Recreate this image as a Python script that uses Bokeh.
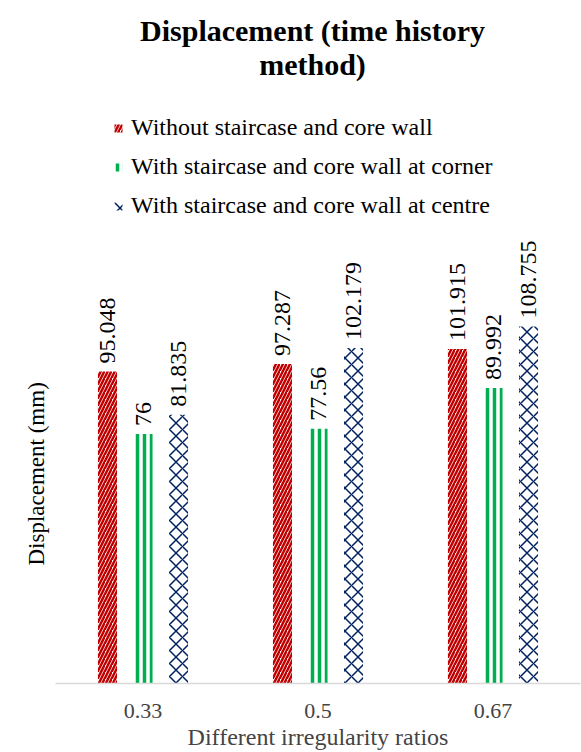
import math
from bokeh.plotting import figure
from bokeh.models import FactorRange, Range1d, ColumnDataSource, Legend, LegendItem, Title, Label
from bokeh.transform import dodge
from bokeh.core.properties import value
from bokeh.embed import file_html
from bokeh.resources import INLINE

categories = ["0.33", "0.5", "0.67"]
series_names = [
    "Without staircase and core wall",
    "With staircase and core wall at corner",
    "With staircase and core wall at centre",
]
without_wall = [95.048, 97.287, 101.915]
wall_corner = [76, 77.56, 89.992]
wall_centre = [81.835, 102.179, 108.755]
label_text = [
    ["95.048", "97.287", "101.915"],
    ["76", "77.56", "89.992"],
    ["81.835", "102.179", "108.755"],
]
title_lines = ["Displacement (time history", "method)"]

FONT = "Liberation Serif"
W, H = 581, 752
FRAME_L, FRAME_T, FRAME_W, FRAME_H = 55, 0, 525, 683
PX_PER_UNIT = 3.283
YMAX = FRAME_H / PX_PER_UNIT
CAT_PX = FRAME_W / len(categories)

p = figure(
    x_range=FactorRange(*categories, range_padding=0),
    y_range=Range1d(0, YMAX),
    width=W, height=H, y_axis_location=None, title_location=None,
    output_backend="svg", toolbar_location=None,
    min_border_left=FRAME_L, min_border_right=W - FRAME_L - FRAME_W,
    min_border_top=FRAME_T, min_border_bottom=H - FRAME_T - FRAME_H,
)
p.x_range.range_padding = 0
p.x_range.factor_padding = 0
p.outline_line_color = None
p.grid.visible = False
p.background_fill_color = "white"
p.border_fill_color = "white"

# two-line chart title (screen rows 30 and 64, centred at x=312)
for line, row in zip(title_lines, [30, 64]):
    p.add_layout(Label(x=(312 - FRAME_L) / CAT_PX, y=(FRAME_H - row) / PX_PER_UNIT, text=line,
                       text_font=FONT, text_font_size="30px", text_font_style="bold",
                       text_color="#000000", text_align="center", text_baseline="middle"))

ytitle = Title(text="Displacement (mm)", text_font=FONT, text_font_size="23px",
               text_font_style="normal", text_color="#000000", align="left",
               offset=118, standoff=14)
p.add_layout(ytitle, "left")

src = ColumnDataSource(dict(cat=categories, s0=without_wall, s1=wall_corner, s2=wall_centre,
                            l0=label_text[0], l1=label_text[1], l2=label_text[2]))

styles = [
    dict(col="s0", lab="l0", off=-0.203, color="#c00000", hatch="/", scale=7.0, weight=2.5),
    dict(col="s1", lab="l1", off=0.0, color="#00b050", hatch="|", scale=7.0, weight=3.5),
    dict(col="s2", lab="l2", off=0.203, color="#002060", hatch="x", scale=13.0, weight=1.5),
]
items = []
for name, st in zip(series_names, styles):
    r = p.vbar(x=dodge("cat", st["off"], range=p.x_range), top=st["col"], width=0.109, source=src,
               fill_color="white", line_color=None,
               hatch_pattern=st["hatch"], hatch_color=st["color"],
               hatch_scale=st["scale"], hatch_weight=st["weight"])
    items.append(LegendItem(label=name, renderers=[r]))
    p.text(x=dodge("cat", st["off"], range=p.x_range), y=st["col"], text=st["lab"], source=src,
           angle=math.pi / 2, text_align="left", text_baseline="middle",
           x_offset=0, y_offset=-8,
           text_font=value(FONT), text_font_size="24px", text_color="#000000")

legend = Legend(items=items, location=(58, FRAME_H - 123 - 96), orientation="vertical",
                label_text_font=FONT, label_text_font_size="24px", label_text_color="#000000",
                glyph_width=10, glyph_height=10, label_standoff=8, spacing=12,
                label_height=24, padding=0, margin=0,
                border_line_color=None, background_fill_alpha=0)
p.add_layout(legend, "center")

p.xaxis.axis_label = "Different irregularity ratios"
p.xaxis.axis_label_text_font = FONT
p.xaxis.axis_label_text_font_size = "24px"
p.xaxis.axis_label_text_font_style = "normal"
p.xaxis.axis_label_standoff = 3
p.xaxis.major_label_text_font = FONT
p.xaxis.major_label_text_font_size = "22px"
p.xaxis.major_label_standoff = 20
p.xaxis.axis_line_color = "#d9d9d9"
p.xaxis.axis_line_width = 1.5
p.xaxis.major_tick_line_color = None
p.xaxis.minor_tick_line_color = None
p.xaxis.major_tick_out = 0
p.xaxis.group_text_color = None

open("out.html", "w").write(file_html(p, INLINE))
